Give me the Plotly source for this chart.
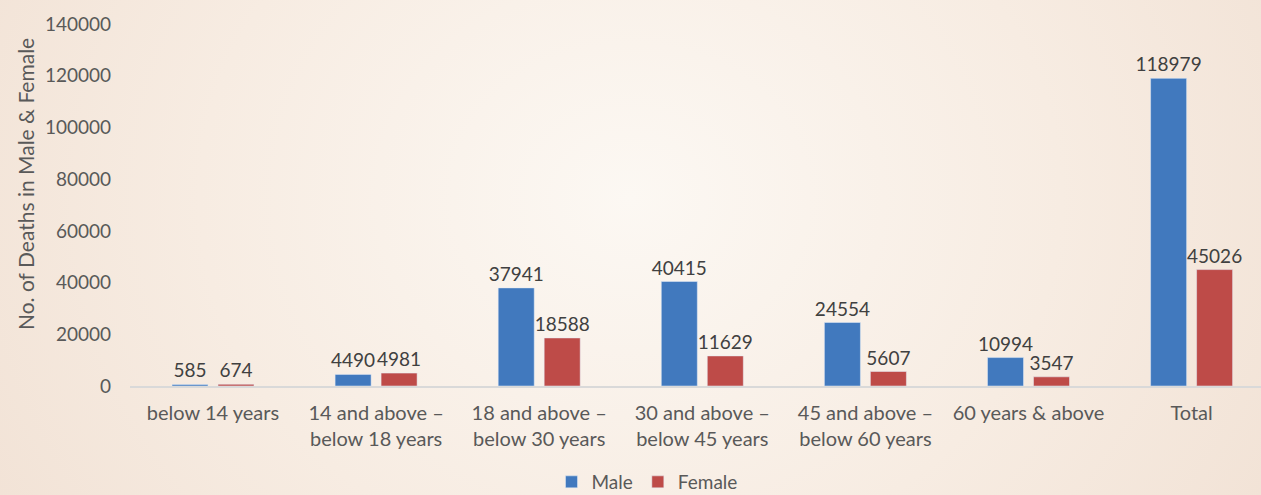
import plotly.graph_objects as go
import base64

categories = ["below 14 years", "14 and above –<br>below 18 years", "18 and above –<br>below 30 years",
              "30 and above –<br>below 45 years", "45 and above –<br>below 60 years", "60 years & above", "Total"]
male = [585, 4490, 37941, 40415, 24554, 10994, 118979]
female = [674, 4981, 18588, 11629, 5607, 3547, 45026]
y_ticks = [0, 20000, 40000, 60000, 80000, 100000, 120000, 140000]

W, H = 1261, 495
ML, MR, MT, MB = 130, 0, 24, 109
pw, ph = W - ML - MR, H - MT - MB

svg = f'''<svg xmlns="http://www.w3.org/2000/svg" width="{W}" height="{H}">
<defs><radialGradient id="g" cx="0.5" cy="0.4" r="0.62" gradientTransform="translate(0.5,0.4) scale(1,2.2) translate(-0.5,-0.4)">
<stop offset="0" stop-color="#fcf8f3"/><stop offset="0.55" stop-color="#f7ece2"/><stop offset="1" stop-color="#f1e1d4"/></radialGradient></defs>
<rect width="{W}" height="{H}" fill="url(#g)"/></svg>'''
src = "data:image/svg+xml;base64," + base64.b64encode(svg.encode()).decode()

FONT = "Lato"
fig = go.Figure()
fig.add_bar(name="Male", x=categories, y=male, marker_color="#4179BE",
            text=[str(v) for v in male], textposition="outside", constraintext="none",
            textfont=dict(size=19, color="#404040", family=FONT), cliponaxis=False)
fig.add_bar(name="Female", x=categories, y=female, marker_color="#BE4B48",
            text=[str(v) for v in female], textposition="outside", constraintext="none",
            textfont=dict(size=19, color="#404040", family=FONT), cliponaxis=False)

x0 = -(213 - ML) / 163.1
x1 = (W - 213) / 163.1
fig.update_layout(
    width=W, height=H, autosize=False,
    margin=dict(l=ML, r=MR, t=MT, b=MB, pad=0, autoexpand=False),
    paper_bgcolor="#f4e7dc", plot_bgcolor="rgba(0,0,0,0)",
    font=dict(family=FONT, size=18, color="#595959"),
    barmode="group", bargap=0.436, bargroupgap=0.217,
    showlegend=True,
    legend=dict(orientation="h", x=(647 - ML) / pw, xanchor="center", y=-(501 - 386) / ph, yanchor="bottom",
                font=dict(size=19, color="#595959"), bgcolor="rgba(0,0,0,0)",
                itemwidth=30, tracegroupgap=0),
    xaxis=dict(range=[x0, x1], showline=True, linecolor="#d9d9d9", linewidth=1.5,
               showgrid=False, zeroline=False, ticks="", ticklabelstandoff=8,
               tickfont=dict(size=20, color="#595959")),
    yaxis=dict(range=[0, 140000], tickvals=y_ticks, ticktext=[str(v) for v in y_ticks],
               showgrid=False, zeroline=False, showline=False, ticks="",
               ticklabelstandoff=18, tickfont=dict(size=19, color="#595959")),
    images=[dict(source=src, xref="paper", yref="paper", x=-ML / pw, y=1 + MT / ph,
                 sizex=W / pw, sizey=H / ph, sizing="stretch", layer="below",
                 xanchor="left", yanchor="top")],
    annotations=[dict(text="No. of Deaths in Male & Female", textangle=-90,
                      xref="paper", yref="paper", x=(25 - ML) / pw, y=1 - (184 - MT) / ph,
                      xanchor="center", yanchor="middle", showarrow=False,
                      font=dict(size=21, color="#595959"))],
)
fig.write_html("out.html", config={"responsive": False, "displayModeBar": False},
               post_script="document.body.style.margin='0px';document.body.style.overflow='hidden';")
